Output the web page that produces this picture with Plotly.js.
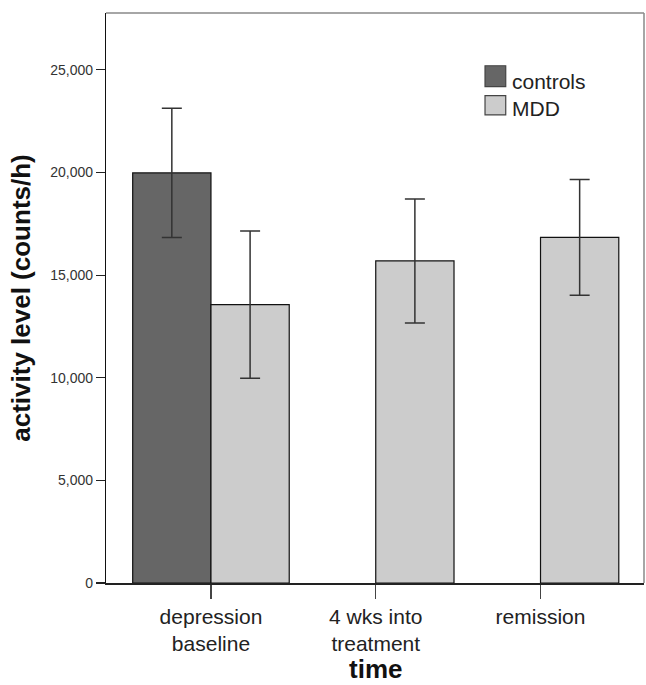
<!DOCTYPE html>
<html>
<head>
<meta charset="utf-8">
<script src="https://cdn.plot.ly/plotly-3.0.1.min.js"></script>
<style>html,body{margin:0;padding:0;background:#fff;}#chart{width:646px;height:685px;}</style>
</head>
<body>
<div id="chart"></div>
<script>
// ---- data ----
const categories = ['depression<br>baseline', '4 wks into<br>treatment', 'remission'];
const seriesNames = ['controls', 'MDD'];
const controlsMean = [19980, null, null];
const controlsErr = [3150, null, null];
const mddMean = [13560, 15690, 16840];
const mddErr = [3590, 3020, 2820];
const yTickVals = [0, 5000, 10000, 15000, 20000, 25000];
const yTickText = ['0', '5,000', '10,000', '15,000', '20,000', '25,000'];
const xTitle = 'time';
const yTitle = 'activity level (counts/h)';

const colors = ['#666666', '#cccccc'];
const FONT = 'Liberation Sans, Arial, sans-serif';

function barTrace(name, y, err, color) {
  return {
    type: 'bar', name: name, x: categories, y: y,
    marker: {color: color, line: {color: '#111', width: 1.2}},
    error_y: {type: 'data', array: err, visible: true, color: '#333', thickness: 1.5, width: 10},
    showlegend: false, hoverinfo: 'skip'
  };
}

const data = [
  barTrace(seriesNames[0], controlsMean, controlsErr, colors[0]),
  barTrace(seriesNames[1], mddMean, mddErr, colors[1])
];

// custom legend (swatches sized like the original)
const legendShapes = [], annotations = [];
const legRows = [{y0: 0.9075, y1: 0.8707, ty: 0.8800}, {y0: 0.8549, y1: 0.8211, ty: 0.8330}];
seriesNames.forEach((n, i) => {
  legendShapes.push({type: 'rect', xref: 'paper', yref: 'paper', x0: 0.7045, x1: 0.743,
    y0: legRows[i].y1, y1: legRows[i].y0, fillcolor: colors[i], line: {color: '#444', width: 1.2}});
  annotations.push({xref: 'paper', yref: 'paper', x: 0.7505, y: legRows[i].ty, xanchor: 'left', yanchor: 'middle',
    text: n, showarrow: false, font: {family: FONT, size: 21, color: '#222'}});
});
// x-axis title (placed like the original, below the two-line tick labels)
annotations.push({xref: 'x', yref: 'paper', x: 1, y: 0, yanchor: 'middle', xanchor: 'center', yshift: -86, borderpad: 0,
  text: '<b>' + xTitle + '</b>', showarrow: false, font: {family: FONT, size: 26, color: '#111'}});

const layout = {
  width: 646, height: 685,
  margin: {l: 106, r: 2, t: 13, b: 102, pad: 0},
  paper_bgcolor: '#fff', plot_bgcolor: '#fff',
  barmode: 'group', bargap: 0.05, bargroupgap: 0,
  font: {family: FONT, color: '#222'},
  xaxis: {
    type: 'category', range: [-0.637, 2.628], fixedrange: true,
    showgrid: false, zeroline: false,
    showline: true, linecolor: '#222', linewidth: 1.5,
    ticks: 'outside', ticklen: 14, tickcolor: '#444', tickwidth: 1.5,
    tickfont: {family: FONT, size: 21, color: '#222'},
    automargin: false
  },
  yaxis: {
    range: [0, 27770], fixedrange: true,
    tickvals: yTickVals, ticktext: yTickText,
    showgrid: false, zeroline: false,
    showline: true, linecolor: '#111', linewidth: 1.2,
    ticks: 'outside', ticklen: 9, tickcolor: '#222', tickwidth: 1.2,
    tickfont: {family: FONT, size: 14, color: '#333'},
    title: {text: '<b>' + yTitle + '</b>', font: {family: FONT, size: 26, color: '#111'}, standoff: 12},
    automargin: false
  },
  shapes: [
    {type: 'line', xref: 'paper', yref: 'paper', x0: 0, x1: 1, y0: 1, y1: 1, line: {color: '#888', width: 1.5}, layer: 'below'},
    {type: 'line', xref: 'paper', yref: 'paper', x0: 1, x1: 1, y0: 0, y1: 1, line: {color: '#888', width: 1.5}, layer: 'below'}
  ].concat(legendShapes),
  annotations: annotations
};

Plotly.newPlot('chart', data, layout, {staticPlot: true, displayModeBar: false});
</script>
</body>
</html>
